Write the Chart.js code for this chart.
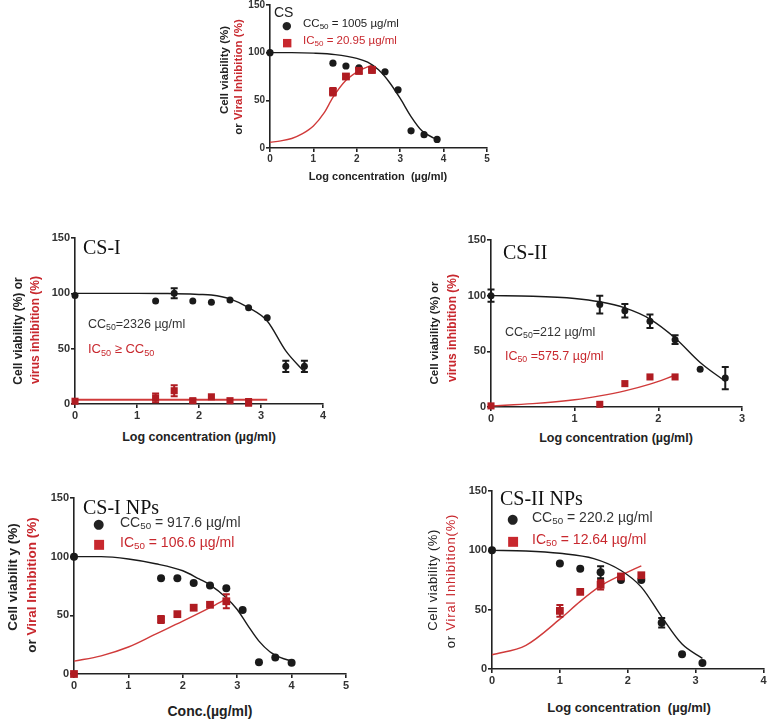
<!DOCTYPE html>
<html><head><meta charset="utf-8">
<script src="https://cdn.jsdelivr.net/npm/chart.js@4.4.0/dist/chart.umd.min.js"></script>
<style>
html,body{margin:0;padding:0;background:#fff;}
body{width:769px;height:724px;overflow:hidden;position:relative;font-family:'Liberation Sans',Arial,sans-serif;}
canvas{position:absolute;}
.t{position:absolute;white-space:nowrap;line-height:1;color:#222;transform:translate(0,-50%);}
.c{transform:translate(-50%,-50%);}
.r{transform:translate(-50%,-50%) rotate(-90deg);font-weight:bold;}
.red{color:#c8282e;}
.serif{font-family:'Liberation Serif','Times New Roman',serif;color:#111;}
sub{font-size:70%;vertical-align:-0.25em;}
.sym{font-family:'DejaVu Sans',sans-serif;}
</style></head><body>
<canvas id="p1" width="290" height="180" style="left:210px;top:-10px"></canvas>
<canvas id="p2" width="320" height="200" style="left:20px;top:225px"></canvas>
<canvas id="p3" width="330" height="205" style="left:430px;top:225px"></canvas>
<canvas id="p4" width="345" height="210" style="left:20px;top:485px"></canvas>
<canvas id="p5" width="329" height="215" style="left:440px;top:478px"></canvas>

<!-- Panel CS -->
<div class="t" style="left:274px;top:12px;font-size:14px;">CS</div>
<div class="t" style="left:282px;top:25px;font-size:11px;"><span class="sym">●</span></div>
<div class="t" style="left:303px;top:25px;font-size:11.5px;">CC<sub>50</sub> = 1005 µg/ml</div>
<div class="t red" style="left:282px;top:42px;font-size:11px;"><span class="sym">■</span></div>
<div class="t red" style="left:303px;top:42px;font-size:11.5px;">IC<sub>50</sub> = 20.95 µg/ml</div>
<div class="t r" style="left:225px;top:70px;font-size:11.5px;">Cell viability (%)</div>
<div class="t r" style="left:239px;top:77px;font-size:11.5px;">or <span class="red">Viral Inhibition (%)</span></div>
<div class="t c" style="left:378px;top:176px;font-size:11px;font-weight:bold;">Log concentration&nbsp; (µg/ml)</div>

<!-- Panel CS-I -->
<div class="t serif" style="left:83px;top:247px;font-size:20px;">CS-I</div>
<div class="t" style="left:88px;top:325px;font-size:12.5px;color:#333;">CC<sub>50</sub>=2326 µg/ml</div>
<div class="t red" style="left:88px;top:350px;font-size:13px;">IC<sub>50</sub> ≥ CC<sub>50</sub></div>
<div class="t r" style="left:18px;top:331px;font-size:12px;">Cell viability (%) or</div>
<div class="t r red" style="left:35px;top:330px;font-size:12px;">virus inhibition (%)</div>
<div class="t c" style="left:199px;top:437px;font-size:12.5px;font-weight:bold;">Log concentration (µg/ml)</div>

<!-- Panel CS-II -->
<div class="t serif" style="left:503px;top:252px;font-size:20px;">CS-II</div>
<div class="t" style="left:505px;top:333px;font-size:12.5px;color:#333;">CC<sub>50</sub>=212 µg/ml</div>
<div class="t red" style="left:505px;top:357px;font-size:12.5px;">IC<sub>50</sub> =575.7 µg/ml</div>
<div class="t r" style="left:435px;top:333px;font-size:11.5px;">Cell viability (%) or</div>
<div class="t r red" style="left:452px;top:328px;font-size:12px;">virus inhibition (%)</div>
<div class="t c" style="left:616px;top:438px;font-size:12.5px;font-weight:bold;">Log concentration (µg/ml)</div>

<!-- Panel CS-I NPs -->
<div class="t serif" style="left:83px;top:507px;font-size:20px;">CS-I NPs</div>
<div class="t" style="left:93px;top:523px;font-size:13px;"><span class="sym">●</span></div>
<div class="t" style="left:120px;top:523px;font-size:14px;color:#333;">CC<sub>50</sub> = 917.6 µg/ml</div>
<div class="t red" style="left:93px;top:543px;font-size:13px;"><span class="sym">■</span></div>
<div class="t red" style="left:120px;top:543px;font-size:14px;">IC<sub>50</sub> = 106.6 µg/ml</div>
<div class="t r" style="left:13px;top:577px;font-size:13.5px;">Cell viabilit y (%)</div>
<div class="t r" style="left:32px;top:585px;font-size:13.5px;">or <span class="red">Viral Inhibition (%)</span></div>
<div class="t c" style="left:210px;top:711px;font-size:14px;font-weight:bold;">Conc.(µg/ml)</div>

<!-- Panel CS-II NPs -->
<div class="t serif" style="left:500px;top:498px;font-size:20px;">CS-II NPs</div>
<div class="t" style="left:507px;top:518px;font-size:13px;"><span class="sym">●</span></div>
<div class="t" style="left:532px;top:518px;font-size:14px;color:#333;">CC<sub>50</sub> = 220.2 µg/ml</div>
<div class="t red" style="left:507px;top:540px;font-size:13px;"><span class="sym">■</span></div>
<div class="t red" style="left:532px;top:540px;font-size:14px;">IC<sub>50</sub> = 12.64 µg/ml</div>
<div class="t r" style="left:432px;top:580px;font-size:13px;font-weight:normal;letter-spacing:0.5px;">Cell viability (%)</div>
<div class="t r" style="left:450px;top:581px;font-size:13px;font-weight:normal;letter-spacing:0.8px;">or <span class="red">Viral Inhibition(%)</span></div>
<div class="t c" style="left:629px;top:707px;font-size:13px;font-weight:bold;">Log concentration&nbsp; (µg/ml)</div>

<script>
// ===== DATA =====
// Panel CS
const csCellX = [0, 1.45, 1.75, 2.05, 2.35, 2.65, 2.95, 3.25, 3.55, 3.85];
const csCellY = [100, 89, 86, 84, 82, 80, 61, 18, 14, 9];
const csCellErr = [0, 0, 0, 0, 0, 0, 0, 0, 0, 0];
const csInhX = [1.45, 1.75, 2.05, 2.35];
const csInhY = [59, 75, 81, 82];
const csInhErr = [4, 2, 3, 3];
const csCellFitX = [0, 0.5, 1, 1.5, 2, 2.25, 2.5, 2.75, 3, 3.25, 3.5, 3.75, 3.9];
const csCellFitY = [100, 100, 99.5, 98, 94, 90, 82, 69, 52, 33, 18, 11, 9];
const csInhFitX = [0, 0.25, 0.5, 0.75, 1, 1.25, 1.45, 1.75, 2.05, 2.35];
const csInhFitY = [6, 7.5, 10, 15, 23, 37, 53, 71, 81, 87];
const csXTicks = [0, 1, 2, 3, 4, 5];

// Panel CS-I
const cs1CellX = [0, 1.3, 1.6, 1.9, 2.2, 2.5, 2.8, 3.1, 3.4, 3.7];
const cs1CellY = [98, 93, 100, 93, 92, 94, 87, 78, 34, 34];
const cs1CellErr = [0, 0, 4.5, 0, 0, 0, 0, 0, 5, 5];
const cs1InhX = [0, 1.3, 1.6, 1.9, 2.2, 2.5, 2.8];
const cs1InhY = [2.5, 5.5, 12, 3, 6.5, 3, 1.5];
const cs1InhErr = [0, 4, 5, 1.5, 0, 0, 3];
const cs1CellFitX = [0, 1, 1.5, 2, 2.2, 2.5, 2.8, 3.1, 3.4, 3.7];
const cs1CellFitY = [100, 100, 99.8, 99, 98.5, 95, 87, 75, 48, 29];
const cs1InhFitX = [0, 3.1];
const cs1InhFitY = [3.8, 3.8];
const cs1XTicks = [0, 1, 2, 3, 4];

// Panel CS-II
const cs2CellX = [0, 1.3, 1.6, 1.9, 2.2, 2.5, 2.8];
const cs2CellY = [100, 92, 86.5, 77, 60.5, 34, 26];
const cs2CellErr = [5.5, 8, 6, 6, 4, 0, 10];
const cs2InhX = [0, 1.3, 1.6, 1.9, 2.2];
const cs2InhY = [1, 2.4, 21, 27, 27];
const cs2InhErr = [0, 0, 0, 0, 0];
const cs2CellFitX = [0, 0.5, 1, 1.3, 1.6, 1.9, 2.2, 2.5, 2.8];
const cs2CellFitY = [100, 99.5, 97.5, 94.5, 89, 79, 62, 40, 23];
const cs2InhFitX = [0, 0.5, 1, 1.3, 1.6, 1.9, 2.2];
const cs2InhFitY = [1, 3, 6.5, 10, 14.5, 20.5, 28.5];
const cs2XTicks = [0, 1, 2, 3];

// Panel CS-I NPs
const cs1nCellX = [0, 1.6, 1.9, 2.2, 2.5, 2.8, 3.1, 3.4, 3.7, 4.0];
const cs1nCellY = [100, 81.5, 81.5, 77.5, 75.5, 73, 54.5, 10, 14, 9.5];
const cs1nCellErr = [0, 0, 0, 0, 0, 0, 0, 0, 0, 0];
const cs1nInhX = [0, 1.6, 1.9, 2.2, 2.5, 2.8];
const cs1nInhY = [0, 46.5, 51, 56.5, 59, 62];
const cs1nInhErr = [0, 3, 0, 0, 0, 6];
const cs1nCellFitX = [0, 0.5, 1, 1.5, 2, 2.3, 2.5, 2.8, 3, 3.2, 3.4, 3.6, 3.8, 4.0];
const cs1nCellFitY = [100, 100, 98, 94, 88, 81, 76, 65, 55, 41, 28, 19, 14, 11];
const cs1nInhFitX = [0, 0.5, 1, 1.5, 2, 2.5, 2.8];
const cs1nInhFitY = [11, 15.5, 23, 34, 45, 56.5, 64];
const cs1nXTicks = [0, 1, 2, 3, 4, 5];

// Panel CS-II NPs
const cs2nCellX = [0, 1, 1.3, 1.6, 1.9, 2.2, 2.5, 2.8, 3.1];
const cs2nCellY = [100, 89, 84.5, 81.5, 75, 75, 39, 12.5, 5];
const cs2nCellErr = [0, 0, 0, 5, 0, 0, 4, 0, 0];
const cs2nInhX = [1, 1.3, 1.6, 1.9, 2.2];
const cs2nInhY = [49, 65, 71, 78, 79];
const cs2nInhErr = [5, 0, 4, 0, 0];
const cs2nCellFitX = [0, 0.5, 1, 1.5, 1.9, 2.2, 2.5, 2.8, 3.1];
const cs2nCellFitY = [100, 99.5, 97.5, 93, 83, 69, 44, 21, 9];
const cs2nInhFitX = [0, 0.5, 1, 1.3, 1.6, 1.9, 2.2];
const cs2nInhFitY = [12, 20, 42, 57, 70, 79, 87];
const cs2nXTicks = [0, 1, 2, 3, 4];

const yTicks = [0, 50, 100, 150];

// ===== RENDERING =====
const BLACK = '#1a1a1a', RED_M = '#b01c22', RED_L = '#d03a3a';

const errorBars = {
  id: 'errorBars',
  afterDatasetsDraw(chart) {
    const ctx = chart.ctx, xs = chart.scales.x, ys = chart.scales.y;
    chart.data.datasets.forEach(ds => {
      if (!ds.errors) return;
      ctx.save();
      ctx.strokeStyle = ds.backgroundColor;
      ctx.lineWidth = 2;
      ds.data.forEach((p, j) => {
        const e = ds.errors[j];
        if (!e) return;
        const px = xs.getPixelForValue(p.x);
        const t = ys.getPixelForValue(p.y + e), b = ys.getPixelForValue(p.y - e);
        const w = 3.5;
        ctx.beginPath();
        ctx.moveTo(px, t); ctx.lineTo(px, b);
        ctx.moveTo(px - w, t); ctx.lineTo(px + w, t);
        ctx.moveTo(px - w, b); ctx.lineTo(px + w, b);
        ctx.stroke();
      });
      ctx.restore();
    });
  }
};

const zip = (xs, ys) => xs.map((x, i) => ({x, y: ys[i]}));

function makePanel(id, d, L) {
  const xMax = d.xTicks[d.xTicks.length - 1];
  new Chart(document.getElementById(id), {
    type: 'scatter',
    data: {
      datasets: [
        {data: zip(d.inhX, d.inhY), errors: d.inhErr, backgroundColor: RED_M, borderColor: RED_M,
         pointStyle: 'rect', pointRadius: L.sq, borderWidth: 0, clip: false},
        {data: zip(d.cellX, d.cellY), errors: d.cellErr, backgroundColor: BLACK, borderColor: BLACK,
         pointStyle: 'circle', pointRadius: L.dot, borderWidth: 0, clip: false},
        {data: zip(d.cellFitX, d.cellFitY), showLine: true, pointRadius: 0, borderColor: BLACK,
         backgroundColor: BLACK, borderWidth: 1.4, cubicInterpolationMode: 'monotone', clip: false},
        {data: zip(d.inhFitX, d.inhFitY), showLine: true, pointRadius: 0, borderColor: RED_L,
         backgroundColor: RED_L, borderWidth: L.redW || 1.4, cubicInterpolationMode: 'monotone', clip: false}
      ]
    },
    options: {
      responsive: false, animation: false, devicePixelRatio: 1,
      layout: {padding: {left: 0, top: L.top, right: L.right, bottom: 0}},
      plugins: {legend: {display: false}, tooltip: {enabled: false}},
      scales: {
        x: {
          type: 'linear', min: 0, max: xMax,
          afterFit: s => { s.height = L.xh; },
          afterBuildTicks: s => { s.ticks = d.xTicks.map(v => ({value: v})); },
          border: {color: '#222', width: 1.6},
          grid: {drawOnChartArea: false, drawTicks: true, tickLength: 4, color: '#222', lineWidth: 1.6},
          ticks: {color: '#333', padding: 1, font: {family: 'Liberation Sans', size: L.fs, weight: 'bold'}}
        },
        y: {
          type: 'linear', min: 0, max: 150,
          afterFit: s => { s.width = L.yw; },
          afterBuildTicks: s => { s.ticks = yTicks.map(v => ({value: v})); },
          border: {color: '#222', width: 1.6},
          grid: {drawOnChartArea: false, drawTicks: true, tickLength: 4, color: '#222', lineWidth: 1.6},
          ticks: {color: '#333', padding: 1, font: {family: 'Liberation Sans', size: L.fs, weight: 'bold'}}
        }
      }
    },
    plugins: [errorBars]
  });
}

makePanel('p1', {cellX: csCellX, cellY: csCellY, cellErr: csCellErr, inhX: csInhX, inhY: csInhY, inhErr: csInhErr,
  cellFitX: csCellFitX, cellFitY: csCellFitY, inhFitX: csInhFitX, inhFitY: csInhFitY, xTicks: csXTicks},
  {yw: 60, top: 15, right: 13, xh: 22, fs: 10, dot: 3.6, sq: 5.5});
makePanel('p2', {cellX: cs1CellX, cellY: cs1CellY, cellErr: cs1CellErr, inhX: cs1InhX, inhY: cs1InhY, inhErr: cs1InhErr,
  cellFitX: cs1CellFitX, cellFitY: cs1CellFitY, inhFitX: cs1InhFitX, inhFitY: cs1InhFitY, xTicks: cs1XTicks},
  {yw: 55, top: 13, right: 17, xh: 21, fs: 11, dot: 3.5, sq: 5, redW: 2});
makePanel('p3', {cellX: cs2CellX, cellY: cs2CellY, cellErr: cs2CellErr, inhX: cs2InhX, inhY: cs2InhY, inhErr: cs2InhErr,
  cellFitX: cs2CellFitX, cellFitY: cs2CellFitY, inhFitX: cs2InhFitX, inhFitY: cs2InhFitY, xTicks: cs2XTicks},
  {yw: 61, top: 15, right: 18, xh: 23, fs: 11, dot: 3.5, sq: 5});
makePanel('p4', {cellX: cs1nCellX, cellY: cs1nCellY, cellErr: cs1nCellErr, inhX: cs1nInhX, inhY: cs1nInhY, inhErr: cs1nInhErr,
  cellFitX: cs1nCellFitX, cellFitY: cs1nCellFitY, inhFitX: cs1nInhFitX, inhFitY: cs1nInhFitY, xTicks: cs1nXTicks},
  {yw: 54, top: 13, right: 19, xh: 21, fs: 11, dot: 4, sq: 5.5});
makePanel('p5', {cellX: cs2nCellX, cellY: cs2nCellY, cellErr: cs2nCellErr, inhX: cs2nInhX, inhY: cs2nInhY, inhErr: cs2nInhErr,
  cellFitX: cs2nCellFitX, cellFitY: cs2nCellFitY, inhFitX: cs2nInhFitX, inhFitY: cs2nInhFitY, xTicks: cs2nXTicks},
  {yw: 52, top: 13, right: 4, xh: 24, fs: 11, dot: 4, sq: 5.5});
</script>
</body></html>
